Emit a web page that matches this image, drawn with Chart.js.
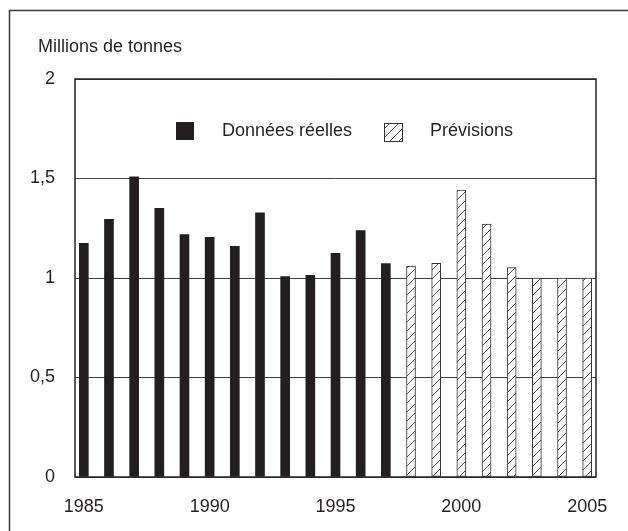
<!DOCTYPE html>
<html>
<head>
<meta charset="utf-8">
<script src="https://cdn.jsdelivr.net/npm/chart.js@4.4.1/dist/chart.umd.min.js"></script>
<style>
  html, body { margin: 0; padding: 0; background: #ffffff; }
  #wrap { width: 628px; height: 531px; }
</style>
</head>
<body>
<div id="wrap"><canvas id="c" width="628" height="531"></canvas></div>
<script>
// ---- Data ----
const actualYears = [1985, 1986, 1987, 1988, 1989, 1990, 1991, 1992, 1993, 1994, 1995, 1996, 1997];
const actualValues = [1.174, 1.295, 1.509, 1.35, 1.218, 1.205, 1.159, 1.328, 1.007, 1.013, 1.124, 1.238, 1.072];
const forecastYears = [1998, 1999, 2000, 2001, 2002, 2003, 2004, 2005];
const forecastValues = [1.06, 1.074, 1.442, 1.271, 1.052, 1.0, 1.0, 1.0];
const xTickValues = [1985, 1990, 1995, 2000, 2005];
const yTickValues = [0, 0.5, 1, 1.5, 2];
const seriesNames = ['Données réelles', 'Prévisions'];
const unitLabel = 'Millions de tonnes';

const FONT = "'Liberation Sans', Arial, Helvetica, sans-serif";
const TEXT = '#231f20';
const INK = '#231f20';

function makeHatch(size) {
  const c = document.createElement('canvas');
  c.width = size; c.height = size;
  const g = c.getContext('2d');
  g.fillStyle = '#ffffff';
  g.fillRect(0, 0, size, size);
  g.strokeStyle = '#3a3a3a';
  g.lineWidth = 0.9;
  g.beginPath();
  g.moveTo(-1, size + 1); g.lineTo(size + 1, -1);
  g.moveTo(-1, 1); g.lineTo(1, -1);
  g.moveTo(size - 1, size + 1); g.lineTo(size + 1, size - 1);
  g.stroke();
  return g.createPattern(c, 'repeat');
}
const hatch = makeHatch(9);

const framePlugin = {
  id: 'frameAndLegend',
  beforeDraw(chart) {
    const ctx = chart.ctx;
    ctx.save();
    ctx.strokeStyle = '#3a3a3a';
    ctx.lineWidth = 1.5;
    ctx.beginPath();
    ctx.moveTo(9.5, 531);
    ctx.lineTo(9.5, 10.5);
    ctx.lineTo(628, 10.5);
    ctx.stroke();
    ctx.fillStyle = TEXT;
    ctx.font = '18px ' + FONT;
    ctx.textBaseline = 'alphabetic';
    ctx.textAlign = 'left';
    ctx.fillText(unitLabel, 38, 52);
    ctx.restore();
  },
  afterDatasetsDraw(chart) {
    const ctx = chart.ctx;
    const a = chart.chartArea;
    ctx.save();
    // plot border
    ctx.strokeStyle = '#222222';
    ctx.lineWidth = 1.5;
    ctx.strokeRect(a.left, a.top, a.right - a.left, a.bottom - a.top);
    // legend
    ctx.fillStyle = INK;
    ctx.fillRect(176, 122, 18, 18);
    ctx.fillStyle = hatch;
    ctx.fillRect(384, 123, 18, 18);
    ctx.strokeStyle = '#333333';
    ctx.lineWidth = 1;
    ctx.strokeRect(384.5, 123.5, 18, 18);
    ctx.fillStyle = TEXT;
    ctx.font = '18px ' + FONT;
    ctx.textBaseline = 'middle';
    ctx.textAlign = 'left';
    ctx.fillText(seriesNames[0], 222, 131);
    ctx.fillText(seriesNames[1], 430, 131);
    ctx.restore();
  }
};

new Chart(document.getElementById('c'), {
  type: 'bar',
  data: {
    datasets: [
      {
        label: seriesNames[0],
        data: actualYears.map((x, i) => ({ x: x, y: actualValues[i] })),
        backgroundColor: INK,
        borderWidth: 0,
        barThickness: 9,
        grouped: false
      },
      {
        label: seriesNames[1],
        data: forecastYears.map((x, i) => ({ x: x, y: forecastValues[i] })),
        backgroundColor: hatch,
        borderColor: '#333333',
        borderWidth: 1,
        borderSkipped: false,
        barThickness: 9,
        grouped: false
      }
    ]
  },
  options: {
    responsive: false,
    animation: false,
    devicePixelRatio: 1,
    layout: { padding: { left: 9, top: 79, right: 32, bottom: 0 } },
    plugins: {
      legend: { display: false },
      tooltip: { enabled: false },
      title: { display: false }
    },
    scales: {
      x: {
        type: 'linear',
        min: 1984.65,
        max: 2005.35,
        offset: false,
        grid: { display: false, drawTicks: false },
        border: { display: false },
        afterBuildTicks(scale) { scale.ticks = xTickValues.map(v => ({ value: v })); },
        afterFit(scale) { scale.height = 54; },
        ticks: {
          padding: 19,
          autoSkip: false,
          maxRotation: 0,
          color: TEXT,
          font: { family: FONT, size: 18 },
          callback: (v) => String(v)
        }
      },
      y: {
        min: 0,
        max: 2,
        grid: { color: '#404040', lineWidth: 1, drawTicks: false },
        border: { display: false },
        afterBuildTicks(scale) { scale.ticks = yTickValues.map(v => ({ value: v })); },
        afterFit(scale) { scale.width = 66; },
        ticks: {
          padding: 20,
          color: TEXT,
          font: { family: FONT, size: 18 },
          callback: (v) => String(v).replace('.', ',')
        }
      }
    }
  },
  plugins: [framePlugin]
});
</script>
</body>
</html>
